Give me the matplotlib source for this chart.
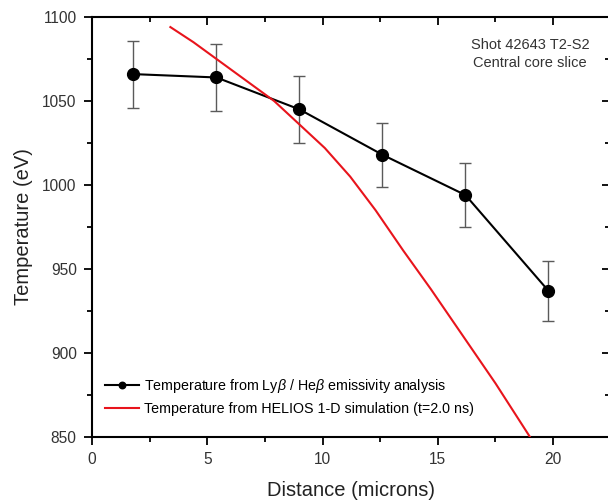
import matplotlib.pyplot as plt
from matplotlib.ticker import MultipleLocator

plt.rcParams['font.family'] = ['Liberation Sans', 'DejaVu Sans']
plt.rcParams['mathtext.fontset'] = 'custom'
plt.rcParams['mathtext.it'] = 'Liberation Sans:italic'

# measured temperatures (Ly-beta / He-beta)
dist = [1.8, 5.4, 9.0, 12.6, 16.2, 19.8]
temp = [1066, 1064, 1045, 1018, 994, 937]
temp_err = [20, 20, 20, 19, 19, 18]

# HELIOS simulation curve
sim_dist = [3.4, 4.4, 5.4, 6.6, 7.9, 9.0, 10.1, 11.2, 12.3, 13.5, 14.7, 16.0, 17.5, 19.0, 19.3]
sim_temp = [1094, 1085, 1075, 1063, 1050, 1036, 1022, 1005, 985, 961, 938, 912, 882, 850, 843]

fig = plt.figure(figsize=(6.08, 5.04), dpi=100)
ax = fig.add_axes([0.1513, 0.1329, 0.852, 0.8334])

ax.errorbar(dist, temp, yerr=temp_err, fmt='none', ecolor='#5a5a5a',
            elinewidth=1.0, capsize=4.3, capthick=1.0, zorder=2)
ax.plot(dist, temp, color='black', lw=1.5, marker='o', markersize=8.5,
        label=r'Temperature from Ly$\it{\beta}$ / He$\it{\beta}$ emissivity analysis', zorder=3)
ax.plot(sim_dist, sim_temp, color='#e8141c', lw=1.5,
        label='Temperature from HELIOS 1-D simulation (t=2.0 ns)', zorder=4)

ax.set_xlim(0, 22.47)
ax.set_ylim(850, 1100)
ax.xaxis.set_major_locator(MultipleLocator(5))
ax.xaxis.set_minor_locator(MultipleLocator(2.5))
ax.yaxis.set_major_locator(MultipleLocator(50))
ax.yaxis.set_minor_locator(MultipleLocator(25))

for s in ax.spines.values():
    s.set_linewidth(1.5)

ax.tick_params(which='both', direction='out', width=1.3, labelsize=11.2,
               colors='black', labelcolor='#333333')
ax.tick_params(which='major', length=6, pad=5)
ax.tick_params(which='minor', length=3.5)
# mirrored ticks pointing inward
ax.tick_params(which='both', top=True, right=True)
for t in ax.xaxis.get_major_ticks() + ax.xaxis.get_minor_ticks():
    t.tick2line.set_marker(3)
for t in ax.yaxis.get_major_ticks() + ax.yaxis.get_minor_ticks():
    t.tick2line.set_marker(0)

ax.set_xlabel('Distance (microns)', fontsize=14.5, color='#222222', labelpad=10)
ax.set_ylabel('Temperature (eV)', fontsize=14.5, color='#222222', labelpad=7)

ax.text(0.846, 0.912, 'Shot 42643 T2-S2\nCentral core slice', transform=ax.transAxes,
        ha='center', va='center', fontsize=10.5, color='#333333', linespacing=1.35)

ax.legend(loc='lower left', bbox_to_anchor=(0.0, 0.02), frameon=False, fontsize=10.3,
          handlelength=2.4, handletextpad=0.35, labelspacing=0.45, borderaxespad=0.5,
          markerscale=0.55)

plt.savefig('out.png', dpi=100)
